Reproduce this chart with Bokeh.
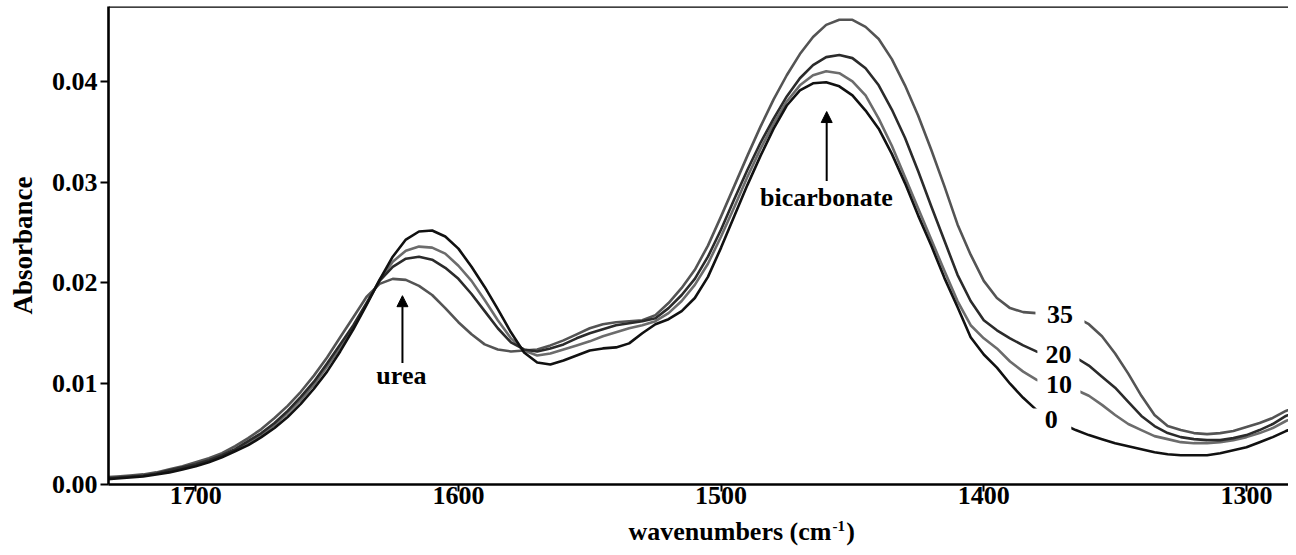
from bokeh.plotting import figure
from bokeh.layouts import column
from bokeh.models import Range1d, FixedTicker, PrintfTickFormatter, Label, Arrow, NormalHead, Span
from bokeh.embed import file_html
from bokeh.resources import INLINE
from bokeh.core.properties import value

FONT = "Liberation Serif"

# wavenumber grid (cm-1), read every 5 cm-1
wavenumber = list(range(1735, 1279, -5))

abs_0 = [0.0005, 0.0006, 0.0007, 0.0008, 0.0010, 0.0012, 0.0015, 0.0018, 0.0022, 0.0027,
         0.0033, 0.0039, 0.0047, 0.0056, 0.0067, 0.0080, 0.0095, 0.0112, 0.0132, 0.0154,
         0.0178, 0.0203, 0.0226, 0.0243, 0.0251, 0.0252, 0.0246, 0.0234, 0.0216, 0.0196,
         0.0174, 0.0151, 0.0131, 0.0121, 0.0119, 0.0123, 0.0128, 0.0133, 0.0135, 0.0136,
         0.0140, 0.0150, 0.0159, 0.0164, 0.0172, 0.0185, 0.0206, 0.0235, 0.0266, 0.0297,
         0.0326, 0.0353, 0.0376, 0.0391, 0.0398, 0.0399, 0.0395, 0.0386, 0.0371, 0.0353,
         0.0328, 0.0299, 0.0267, 0.0237, 0.0205, 0.0176, 0.0146, 0.0129, 0.0116, 0.0100,
         0.0086, 0.0074, 0.0066, 0.0060, 0.0054, 0.0049, 0.0045, 0.0041, 0.0038, 0.0035,
         0.0032, 0.0030, 0.0029, 0.0029, 0.0029, 0.0031, 0.0034, 0.0037, 0.0042, 0.0047,
         0.0053, 0.0058]

abs_10 = [0.0006, 0.0007, 0.0008, 0.0009, 0.0011, 0.0013, 0.0016, 0.0019, 0.0023, 0.0028,
          0.0034, 0.0041, 0.0049, 0.0059, 0.0071, 0.0084, 0.0099, 0.0117, 0.0136, 0.0156,
          0.0179, 0.0203, 0.0221, 0.0232, 0.0236, 0.0235, 0.0229, 0.0217, 0.0202, 0.0183,
          0.0163, 0.0145, 0.0133, 0.0128, 0.0130, 0.0134, 0.0138, 0.0142, 0.0147, 0.0151,
          0.0155, 0.0158, 0.0162, 0.0170, 0.0182, 0.0198, 0.0219, 0.0246, 0.0275, 0.0305,
          0.0333, 0.0358, 0.0380, 0.0396, 0.0406, 0.0410, 0.0408, 0.0400, 0.0386, 0.0363,
          0.0336, 0.0305, 0.0274, 0.0243, 0.0212, 0.0182, 0.0158, 0.0145, 0.0135, 0.0122,
          0.0112, 0.0104, 0.0100, 0.0097, 0.0094, 0.0088, 0.0079, 0.0069, 0.0060, 0.0054,
          0.0048, 0.0045, 0.0042, 0.0041, 0.0041, 0.0042, 0.0044, 0.0047, 0.0051, 0.0056,
          0.0063, 0.0068]

abs_20 = [0.0006, 0.0007, 0.0008, 0.0009, 0.0011, 0.0014, 0.0017, 0.0020, 0.0024, 0.0029,
          0.0035, 0.0043, 0.0051, 0.0061, 0.0073, 0.0087, 0.0102, 0.0120, 0.0139, 0.0158,
          0.0180, 0.0202, 0.0216, 0.0224, 0.0226, 0.0223, 0.0215, 0.0204, 0.0189, 0.0172,
          0.0155, 0.0141, 0.0134, 0.0132, 0.0135, 0.0139, 0.0145, 0.0150, 0.0154, 0.0158,
          0.0160, 0.0162, 0.0165, 0.0175, 0.0188, 0.0204, 0.0226, 0.0253, 0.0283, 0.0312,
          0.0339, 0.0363, 0.0385, 0.0403, 0.0416, 0.0424, 0.0426, 0.0423, 0.0413, 0.0396,
          0.0372, 0.0344, 0.0311, 0.0276, 0.0242, 0.0208, 0.0182, 0.0163, 0.0153, 0.0145,
          0.0138, 0.0132, 0.0129, 0.0128, 0.0126, 0.0118, 0.0107, 0.0096, 0.0082, 0.0068,
          0.0058, 0.0051, 0.0047, 0.0045, 0.0044, 0.0044, 0.0046, 0.0049, 0.0054, 0.0060,
          0.0068, 0.0073]

abs_35 = [0.0007, 0.0008, 0.0009, 0.0010, 0.0012, 0.0015, 0.0018, 0.0022, 0.0026, 0.0031,
          0.0038, 0.0046, 0.0055, 0.0066, 0.0078, 0.0092, 0.0108, 0.0126, 0.0146, 0.0166,
          0.0186, 0.0199, 0.0204, 0.0203, 0.0197, 0.0188, 0.0175, 0.0161, 0.0149, 0.0139,
          0.0134, 0.0132, 0.0133, 0.0134, 0.0138, 0.0143, 0.0149, 0.0155, 0.0159, 0.0161,
          0.0162, 0.0163, 0.0168, 0.0180, 0.0195, 0.0213, 0.0237, 0.0266, 0.0296, 0.0326,
          0.0355, 0.0382, 0.0406, 0.0427, 0.0444, 0.0456, 0.0461, 0.0461, 0.0454, 0.0442,
          0.0422, 0.0396, 0.0366, 0.0332, 0.0296, 0.0258, 0.0228, 0.0202, 0.0185, 0.0175,
          0.0171, 0.0170, 0.0169, 0.0168, 0.0166, 0.0159, 0.0147, 0.0130, 0.0110, 0.0088,
          0.0069, 0.0058, 0.0054, 0.0051, 0.0050, 0.0051, 0.0053, 0.0057, 0.0061, 0.0066,
          0.0073, 0.0078]

series_names = ["0", "10", "20", "35"]
series_colors = ["#111111", "#6c6c6c", "#2b2b2b", "#545454"]

x_ticks = [1700, 1600, 1500, 1400, 1300]
y_ticks = [0.00, 0.01, 0.02, 0.03, 0.04]

# curve-label anchors (wavenumber, absorbance)
curve_label_wn = [1374.3, 1371.4, 1371.6, 1371.0]
curve_label_abs = [0.00645, 0.00992, 0.01290, 0.01687]
curve_label_box_w = [40, 43, 42, 49]

X_RANGE = Range1d(1733.2, 1284.0)

p = figure(width=1288, height=516, output_backend="svg", toolbar_location=None,
           x_range=X_RANGE, y_range=Range1d(0.0, 0.04742),
           min_border_left=108, min_border_right=0, min_border_top=6, min_border_bottom=32,
           background_fill_color="white", border_fill_color="white")
p.outline_line_color = None
p.xgrid.visible = False
p.ygrid.visible = False

data = [abs_0, abs_10, abs_20, abs_35]
order = [3, 1, 2, 0]
for i in order:
    p.line(wavenumber, data[i], line_color=series_colors[i], line_width=2.6, line_join="round")

# white gaps behind curve labels
p.rect(x=curve_label_wn, y=curve_label_abs, width=curve_label_box_w, height=22,
       width_units="screen", height_units="screen", fill_color="white", line_color=None)
p.text(x=curve_label_wn, y=curve_label_abs, text=series_names,
       text_font=value(FONT), text_font_style="bold", text_font_size="26px",
       text_align="center", text_baseline="middle", text_color="black")

# axes
p.xaxis.ticker = FixedTicker(ticks=x_ticks)
p.yaxis.ticker = FixedTicker(ticks=y_ticks)
p.xaxis.formatter = PrintfTickFormatter(format="%d")
p.yaxis.formatter = PrintfTickFormatter(format="%.2f")
for ax in (p.xaxis[0], p.yaxis[0]):
    ax.axis_line_width = 2.6
    ax.axis_line_color = "black"
    ax.major_tick_line_width = 2
    ax.major_tick_line_color = "black"
    ax.major_tick_out = 8
    ax.major_tick_in = 0
    ax.minor_tick_line_color = None
    ax.major_label_text_font = FONT
    ax.major_label_text_font_style = "bold"
    ax.major_label_text_font_size = "26px"
    ax.major_label_text_color = "black"
p.xaxis.major_tick_out = 7
p.xaxis.major_label_standoff = -5
p.yaxis.major_label_standoff = 3
p.yaxis.axis_label = "Absorbance"
p.yaxis.axis_label_text_font = FONT
p.yaxis.axis_label_text_font_style = "bold"
p.yaxis.axis_label_text_font_size = "27px"
p.yaxis.axis_label_text_color = "black"
p.yaxis.axis_label_standoff = 11

p.add_layout(Span(location=0.04742, dimension="width", line_color="black", line_width=2.6))

# band annotations
p.add_layout(Arrow(end=NormalHead(size=11, fill_color="black", line_color="black"),
                   x_start=1621.3, y_start=0.01205, x_end=1621.3, y_end=0.01873,
                   line_width=2, line_color="black"))
p.add_layout(Label(x=1621.7, y=0.01081, text="urea", text_align="center",
                   text_baseline="middle", text_font=FONT, text_font_style="bold",
                   text_font_size="26px", text_color="black"))
p.add_layout(Arrow(end=NormalHead(size=11, fill_color="black", line_color="black"),
                   x_start=1459.8, y_start=0.0301, x_end=1459.8, y_end=0.0370,
                   line_width=2, line_color="black"))
p.add_layout(Label(x=1459.9, y=0.02847, text="bicarbonate", text_align="center",
                   text_baseline="middle", text_font=FONT, text_font_style="bold",
                   text_font_size="26px", text_color="black"))

# x-axis title strip (shares the x scale; centred where the original, wider frame centres it)
t = figure(width=1288, height=31, output_backend="svg", toolbar_location=None,
           x_range=X_RANGE, y_range=Range1d(0, 31),
           min_border_left=108, min_border_right=0, min_border_top=0, min_border_bottom=0,
           x_axis_location=None, y_axis_location=None,
           background_fill_color="white", border_fill_color="white")
t.outline_line_color = None
t.xgrid.visible = False
t.ygrid.visible = False
t.text(x=[1458.0], y=[16], text=["wavenumbers (cm"], text_align="right", text_baseline="middle",
       text_font=value(FONT), text_font_style="bold", text_font_size="26px", text_color="black")
t.text(x=[1457.6], y=[22], text=["-1"], text_align="left", text_baseline="middle",
       text_font=value(FONT), text_font_style="bold", text_font_size="15px", text_color="black")
t.text(x=[1452.4], y=[16], text=[")"], text_align="left", text_baseline="middle",
       text_font=value(FONT), text_font_style="bold", text_font_size="26px", text_color="black")

open("out.html", "w").write(file_html(column(p, t), INLINE))
